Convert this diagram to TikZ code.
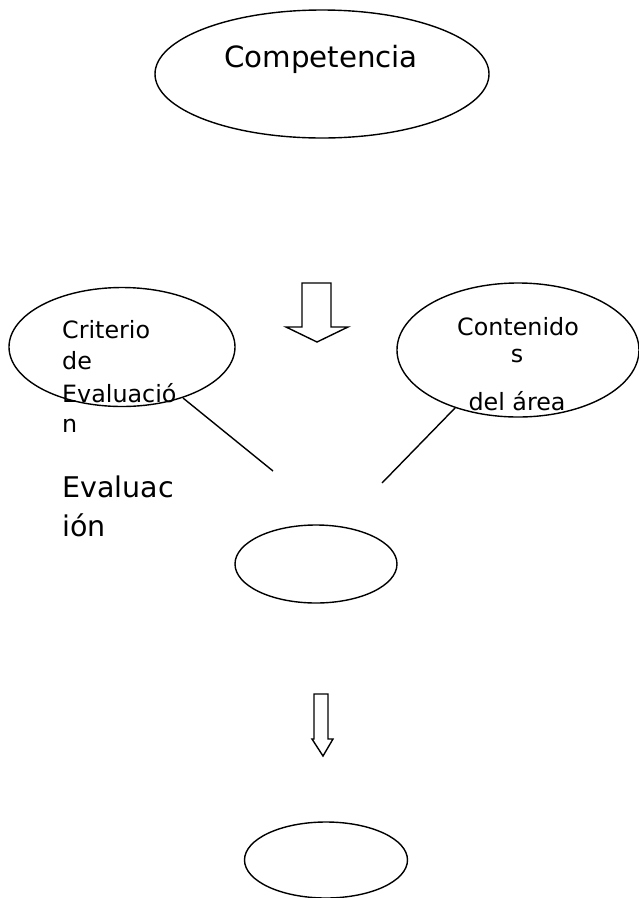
\documentclass[tikz,border=0pt]{standalone}
\usepackage{fontspec}
\setmainfont{DejaVu Sans}
\usetikzlibrary{shapes.geometric}
\begin{document}
\begin{tikzpicture}[x=1pt,y=-1pt,
  ell/.style={draw, line width=1.4pt, ellipse, inner sep=0pt},
  bigtxt/.style={inner sep=0pt, font=\fontsize{28.5}{33}\selectfont},
  midtxt/.style={inner sep=0pt, font=\fontsize{23.8}{28}\selectfont},
  conn/.style={line width=1.4pt},
  blockarrow/.style={draw, line width=1.4pt, line join=miter}]
\useasboundingbox (0,0) rectangle (639,898);
% ellipses
\node[ell, minimum width=334, minimum height=128] (comp) at (322,74) {};
\node[ell, minimum width=226, minimum height=119] (crit) at (122,347) {};
\node[ell, minimum width=242, minimum height=134] (cont) at (518,350) {};
\node[ell, minimum width=162, minimum height=78] (eval) at (316,564) {};
\node[ell, minimum width=163, minimum height=76] (fin) at (326,860) {};
% texts
\node[bigtxt, anchor=base, font=\fontsize{29.3}{33}\selectfont] (tcomp) at (321,67) {Competencia};
\node[midtxt, anchor=base west] (c1) at (62,338) {Criterio};
\node[midtxt, anchor=base west] (c2) at (62,369) {de};
\node[midtxt, anchor=base west] (c3) at (62,402) {Evaluació};
\node[midtxt, anchor=base west] (c4) at (62,432) {n};
\node[midtxt, anchor=base] (d1) at (518,335) {Contenido};
\node[midtxt, anchor=base] (d2) at (517,362) {s};
\node[midtxt, anchor=base] (d3) at (517,410) {del área};
\node[bigtxt, anchor=base west] (e1) at (62,497) {Evaluac};
\node[bigtxt, anchor=base west] (e2) at (62,536) {ión};
% connectors
\coordinate (l1a) at (183,398);
\coordinate (l1b) at (273,471);
\coordinate (l2a) at (455,408);
\coordinate (l2b) at (382,483);
\draw[conn] (l1a) -- (l1b);
\draw[conn] (l2a) -- (l2b);
% block arrows
\draw[blockarrow] (302,283) -- (331,283) -- (331,327) -- (348,327) -- (317,342) -- (286,327) -- (302,327) -- cycle;
\draw[blockarrow] (314,694) -- (328,694) -- (328,739) -- (333,739) -- (323,756) -- (312,739) -- (314,739) -- cycle;
\end{tikzpicture}
\end{document}
